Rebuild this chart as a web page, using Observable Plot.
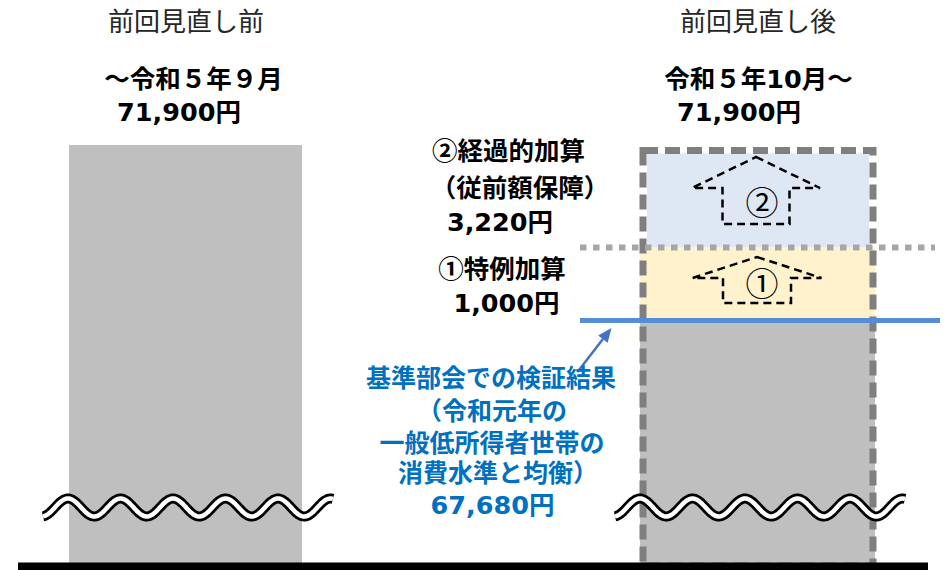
<!DOCTYPE html>
<html lang="ja">
<head>
<meta charset="utf-8">
<script src="https://cdn.jsdelivr.net/npm/d3@7"></script>
<script src="https://cdn.jsdelivr.net/npm/@observablehq/plot@0.6"></script>
<style>
  html, body { margin: 0; padding: 0; background: #fff; }
  #chart { width: 945px; height: 570px; }
</style>
</head>
<body>
<div id="chart"></div>
<script>
// ---- data ----
const categories = ["前回見直し前", "注記", "前回見直し後"];
const headers = ["前回見直し前", "前回見直し後"];
const periodLabels = ["～令和５年９月", "令和５年10月～"];
const totalYen = [71900, 71900];
const baseYen = 67680;      // 基準部会での検証結果
const tokureiYen = 1000;    // ①特例加算
const keikaYen = 3220;      // ②経過的加算
const keikaLines = ["②経過的加算", "（従前額保障）"];
const tokureiLines = ["①特例加算"];
const baseLines = ["基準部会での検証結果", "（令和元年の", "一般低所得者世帯の", "消費水準と均衡）"];
const boxMarks = ["②", "①"];

// ---- derived ----
const yen = v => d3.format(",")(v) + "円";
const lvlBase = baseYen;
const lvlTokurei = baseYen + tokureiYen;
const lvlKeika = baseYen + tokureiYen + keikaYen;
const leftCat = categories[0], midCat = categories[1], rightCat = categories[2];

// schematic (broken-axis) transform of yen values: the range below the base is compressed,
// the added amounts are drawn enlarged as in the original figure
const sch = d3.scaleLinear().domain([0, lvlBase, lvlTokurei, lvlKeika]).range([0, 246, 319, 418.5]);

const CJK = "'Noto Sans CJK JP', sans-serif";
const MIX = "'DejaVu Sans', 'Noto Sans CJK JP', sans-serif";
const BLUE = "#0070c0";

function txt(s, opts) {
  const {col, val, dx = 0, dy = 0, bold = true, family = CJK, size = 25.5, color = "#000"} = opts;
  const o = {
    x: () => col, text: d => d, dx, dy: dy + 1, lineAnchor: "middle", textAnchor: "middle",
    fontSize: size, fontFamily: family, fontWeight: bold ? "bold" : "normal", fill: color
  };
  if (val === undefined) o.frameAnchor = "top"; else o.y = () => val;
  return Plot.text([s], o);
}

function decorations(index, scales) {
  const {x} = scales;
  const y = v => scales.y(sch(v));
  const bw = typeof x.bandwidth === "function" ? x.bandwidth() : x.bandwidth;
  const g = d3.create("svg:g");
  // axis-break wave symbols
  const yBreak = y(0) - 58.5;
  for (const c of [leftCat, rightCat]) {
    const x0 = x(c) - 26, x1 = x(c) + bw + 31, peak = x(c) - 1;
    const pts = d3.range(x0, x1 + 0.5, 1).map(px => [px, yBreak - 9 * Math.cos(2 * Math.PI * (px - peak) / 52.5)]);
    const line = d3.line();
    g.append("path").attr("d", line(pts)).attr("fill", "none").attr("stroke", "#000").attr("stroke-width", 10);
    g.append("path").attr("d", line(pts)).attr("fill", "none").attr("stroke", "#fff").attr("stroke-width", 4.5);
  }
  // dashed up-arrows inside added segments
  const houses = [
    {cx: x(rightCat) + 115, tip: y(lvlKeika) + 9.5, wing: y(lvlKeika) + 40.5, bottom: y(lvlTokurei) - 23, hw: 64, hs: 33.5},
    {cx: x(rightCat) + 116, tip: y(lvlTokurei) + 10, wing: y(lvlTokurei) + 31, bottom: y(lvlBase) - 17, hw: 64.5, hs: 34}
  ];
  for (const h of houses) {
    const p = d3.path();
    p.moveTo(h.cx, h.tip);
    p.lineTo(h.cx + h.hw, h.wing);
    p.lineTo(h.cx + h.hs, h.wing);
    p.lineTo(h.cx + h.hs, h.bottom);
    p.lineTo(h.cx - h.hs, h.bottom);
    p.lineTo(h.cx - h.hs, h.wing);
    p.lineTo(h.cx - h.hw, h.wing);
    p.closePath();
    g.append("path").attr("d", p.toString()).attr("fill", "none").attr("stroke", "#000")
      .attr("stroke-width", 2.5).attr("stroke-dasharray", "8,5");
  }
  // annotation arrow
  const mc = x(midCat) + bw / 2;
  const tx = mc + 106, ty = y(lvlBase) + 52, hx = mc + 140, hy = y(lvlBase) + 8;
  const ang = Math.atan2(hy - ty, hx - tx), L = 14, W = 6;
  const bx = hx - L * Math.cos(ang), by = hy - L * Math.sin(ang);
  g.append("line").attr("x1", tx).attr("y1", ty).attr("x2", bx).attr("y2", by)
    .attr("stroke", "#4472c4").attr("stroke-width", 2.5);
  g.append("path").attr("d", `M${hx},${hy}L${bx - W * Math.sin(ang)},${by + W * Math.cos(ang)}L${bx + W * Math.sin(ang)},${by - W * Math.cos(ang)}Z`)
    .attr("fill", "#4472c4");
  return g.node();
}

const plot = Plot.plot({
  width: 945,
  height: 570,
  margin: 0,
  style: {background: "#fff"},
  x: {type: "band", domain: categories, range: [68, 874], paddingInner: 0.1867, paddingOuter: 0, axis: null},
  y: {transform: sch, domain: [sch(0), sch(lvlKeika)], range: [566, 147.5], axis: null},
  marks: [
    // left bar
    Plot.barY([{c: leftCat, y1: 0, y2: totalYen[0]}], {x: "c", y1: "y1", y2: "y2", fill: "#bfbfbf", insetTop: -2.5}),
    // right stacked parts
    Plot.barY([{c: rightCat, y1: 0, y2: lvlBase}], {x: "c", y1: "y1", y2: "y2", fill: "#bfbfbf", insetLeft: -1, insetRight: -1}),
    Plot.barY([{c: rightCat, y1: lvlBase, y2: lvlTokurei}], {x: "c", y1: "y1", y2: "y2", fill: "#fff2cc", insetLeft: -1, insetRight: -1}),
    Plot.barY([{c: rightCat, y1: lvlTokurei, y2: lvlKeika}], {x: "c", y1: "y1", y2: "y2", fill: "#dee8f4", insetLeft: 6, insetRight: 5, insetTop: 6}),
    // dashed frame of right bar
    Plot.barY([{c: rightCat, y1: 0, y2: totalYen[1]}], {x: "c", y1: "y1", y2: "y2", fill: "none", stroke: "#7f7f7f", strokeWidth: 7, strokeDasharray: "15,7", insetLeft: 2, insetRight: 1, insetTop: 3}),
    decorations,
    // dotted level line & base line
    Plot.ruleY([lvlTokurei], {stroke: "#a6a6a6", strokeWidth: 6, strokeDasharray: "6.5,6.5", insetLeft: 580, insetRight: 10}),
    Plot.ruleY([lvlBase], {stroke: "#558ed5", strokeWidth: 5, insetLeft: 580, insetRight: 5}),
    // baseline
    Plot.ruleY([0], {stroke: "#000", strokeWidth: 8, insetLeft: 18, insetRight: 17}),
    // circled marks in boxes
    txt(boxMarks[0], {col: rightCat, val: (lvlTokurei + lvlKeika) / 2, dx: 4, dy: 6, bold: false, size: 33}),
    txt(boxMarks[1], {col: rightCat, val: (lvlBase + lvlTokurei) / 2, dx: 4, dy: 0, bold: false, size: 33}),
    // headers
    txt(headers[0], {col: leftCat, dy: 21, bold: false, size: 26, color: "#262626"}),
    txt(headers[1], {col: rightCat, dy: 21, bold: false, size: 26, color: "#262626"}),
    txt(periodLabels[0], {col: leftCat, dx: 7.5, dy: 78, family: MIX}),
    txt(periodLabels[1], {col: rightCat, dx: 0.5, dy: 78, family: MIX}),
    txt(yen(totalYen[0]), {col: leftCat, dx: -7, dy: 111, family: MIX}),
    txt(yen(totalYen[1]), {col: rightCat, dx: -19, dy: 111, family: MIX}),
    // ② label block
    txt(keikaLines[0], {col: midCat, val: lvlKeika, dx: 36.5, dy: 2.5}),
    txt(keikaLines[1], {col: midCat, val: lvlKeika, dx: 48, dy: 39.5}),
    txt(yen(keikaYen), {col: midCat, val: lvlKeika, dx: 28, dy: 73.5, family: MIX}),
    // ① label block
    txt(tokureiLines[0], {col: midCat, val: lvlTokurei, dx: 30, dy: 21}),
    txt(yen(tokureiYen), {col: midCat, val: lvlTokurei, dx: 34.5, dy: 55, family: MIX}),
    // base note (blue)
    txt(baseLines[0], {col: midCat, val: lvlBase, dx: 19, dy: 57, color: BLUE, size: 25}),
    txt(baseLines[1], {col: midCat, val: lvlBase, dx: 20, dy: 90, color: BLUE, size: 25}),
    txt(baseLines[2], {col: midCat, val: lvlBase, dx: 20, dy: 122, color: BLUE, size: 25}),
    txt(baseLines[3], {col: midCat, val: lvlBase, dx: 26, dy: 152, color: BLUE, size: 25}),
    txt(yen(baseYen), {col: midCat, val: lvlBase, dx: 20.5, dy: 184, family: MIX, color: BLUE})
  ]
});
document.getElementById("chart").appendChild(plot);
</script>
</body>
</html>
